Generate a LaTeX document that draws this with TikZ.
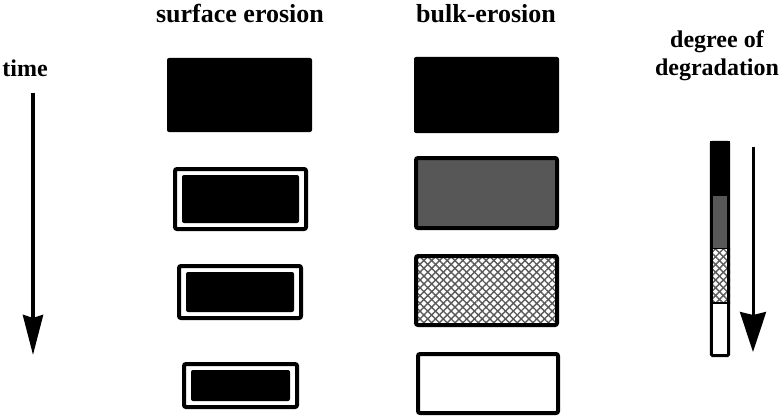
\documentclass[tikz,border=0pt]{standalone}
\usepackage{fontspec}
\setmainfont{Liberation Serif}
\usetikzlibrary{arrows.meta,patterns.meta}
\begin{document}
\begin{tikzpicture}[x=1pt,y=-1pt,
  head/.style={font=\bfseries\fontsize{26}{30}\selectfont, anchor=base, inner sep=0pt},
  side/.style={font=\bfseries\fontsize{24}{28}\selectfont, anchor=base, inner sep=0pt, align=center},
  solid/.style={fill=black, inner sep=0pt, rounded corners=2pt},
  frame/.style={draw=black, line width=4pt, fill=white, inner sep=0pt, rounded corners=2pt},
  core/.style={fill=black, inner sep=0pt, rounded corners=2pt},
  hatch/.style={preaction={pattern={Lines[angle=45,distance=5.5pt,line width=1.4pt]}, pattern color=black!65},
                pattern={Lines[angle=-45,distance=5.5pt,line width=1.4pt]}, pattern color=black!65},
  seg/.style={inner sep=0pt, minimum width=20pt},
  timearrow/.style={line width=4pt, -{Stealth[length=40pt,width=20pt,inset=3pt]}},
  degarrow/.style={line width=3pt, -{Stealth[length=40pt,width=26pt,inset=3pt]}},
]
\useasboundingbox (0,0) rectangle (782,420);

% headings
\node[head] (hs) at (240,23) {surface erosion};
\node[head] (hb) at (486,23) {bulk-erosion};
\node[side] (ht) at (25,77) {time};
\node[side] (hd) at (717,75) {degree of\\degradation};

% time arrow
\coordinate (t0) at (33,93);
\coordinate (t1) at (33,355);
\draw[timearrow] (t0) -- (t1);

% surface erosion column
\node[solid, minimum width=145pt, minimum height=74pt] (s1) at (239.5,95) {};
\node[frame, minimum width=131pt, minimum height=60pt] (s2) at (240.5,199) {};
\node[core, minimum width=117pt, minimum height=48pt] (s2c) at (s2.center) {};
\node[frame, minimum width=122pt, minimum height=52pt] (s3) at (240,292) {};
\node[core, minimum width=108pt, minimum height=40pt] (s3c) at (s3.center) {};
\node[frame, minimum width=113pt, minimum height=43pt] (s4) at (240.5,385.5) {};
\node[core, minimum width=99pt, minimum height=31pt] (s4c) at (s4.center) {};

% bulk erosion column
\node[solid, minimum width=145pt, minimum height=76pt] (b1) at (486.5,95) {};
\node[frame, fill=black!66, minimum width=141pt, minimum height=70pt] (b2) at (486.5,193) {};
\node[frame, hatch, minimum width=141pt, minimum height=69pt] (b3) at (486.5,290.5) {};
\node[frame, minimum width=140pt, minimum height=59pt] (b4) at (488,383.5) {};

% degree of degradation bar
\node[seg, fill=black, minimum height=55pt] (g1) at (720,168.5) {};
\node[seg, fill=black!66, minimum height=52pt] (g2) at (720,222) {};
\node[seg, hatch, minimum height=55pt] (g3) at (720,275.5) {};
\node[seg, fill=white, minimum height=54pt] (g4) at (720,330) {};
\draw[line width=1pt] (g2.south west) -- (g2.south east);
\draw[line width=2pt] (g3.south west) -- (g3.south east);
\draw[line width=3pt, rounded corners=1.5pt] ([shift={(1.5pt,-1.5pt)}]g1.north west) rectangle ([shift={(-1.5pt,1.5pt)}]g4.south east);

\coordinate (d0) at (753,147);
\coordinate (d1) at (753,352);
\draw[degarrow] (d0) -- (d1);
\end{tikzpicture}
\end{document}
